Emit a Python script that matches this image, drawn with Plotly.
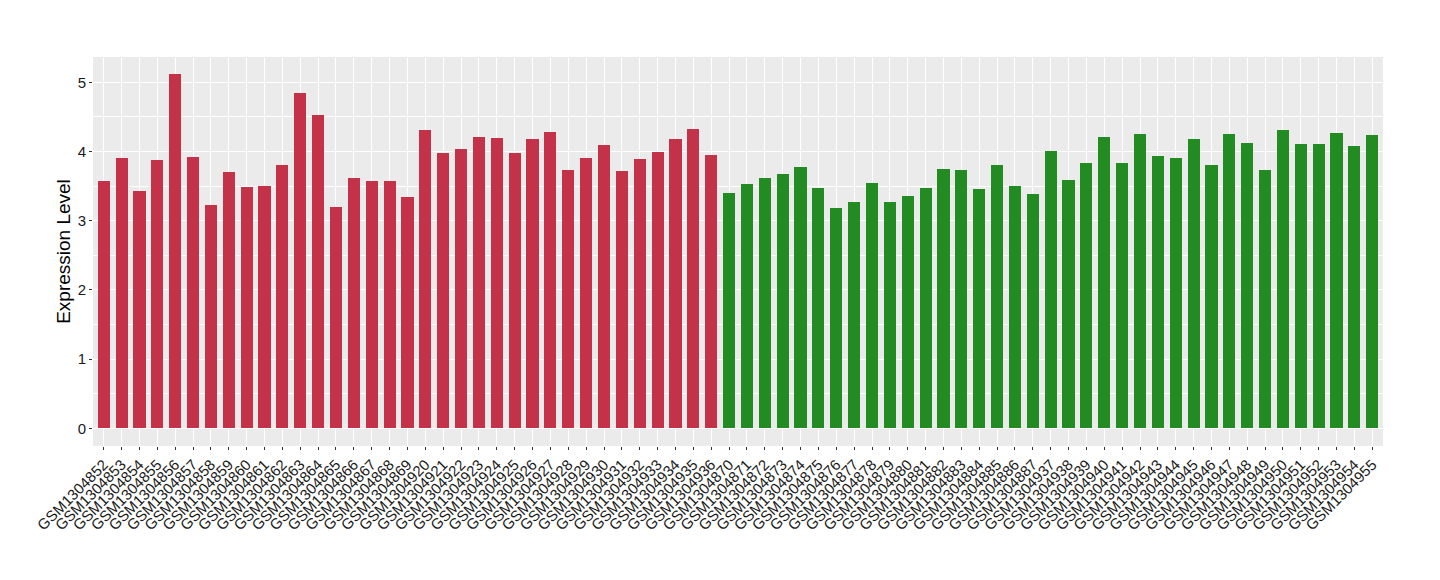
import plotly.graph_objects as go

# Sample groups
red_samples = [f"GSM{n}" for n in list(range(1304852, 1304870)) + list(range(1304920, 1304937))]
red_values = [3.57, 3.91, 3.43, 3.88, 5.12, 3.92, 3.22, 3.70, 3.49, 3.50, 3.80, 4.85, 4.53, 3.20,
              3.62, 3.57, 3.57, 3.34,
              4.31, 3.98, 4.04, 4.21, 4.20, 3.98, 4.18, 4.28, 3.73, 3.91, 4.09, 3.72, 3.89, 3.99,
              4.18, 4.33, 3.95]

green_samples = [f"GSM{n}" for n in list(range(1304870, 1304888)) + list(range(1304937, 1304956))]
green_values = [3.40, 3.53, 3.62, 3.68, 3.78, 3.47, 3.18, 3.27, 3.55, 3.27, 3.36, 3.47, 3.75, 3.73,
                3.46, 3.80, 3.50, 3.38,
                4.01, 3.59, 3.83, 4.21, 3.83, 4.25, 3.94, 3.91, 4.18, 3.80, 4.25, 4.12, 3.73, 4.31,
                4.11, 4.11, 4.27, 4.08, 4.24]

RED = "#C33249"
GREEN = "#228B22"

samples = red_samples + green_samples
values = red_values + green_values
colors = [RED] * len(red_samples) + [GREEN] * len(green_samples)

fig = go.Figure()
fig.add_trace(
    go.Bar(
        x=samples,
        y=values,
        marker=dict(color=colors, line=dict(width=0)),
        width=0.68,
        showlegend=False,
    )
)

# page body adds an 8px offset, margins compensate for it
fig.update_layout(
    width=1440,
    height=580,
    paper_bgcolor="white",
    plot_bgcolor="#EBEBEB",
    margin=dict(l=85, r=65, t=49, b=142),
    font=dict(family="Liberation Sans, Arial, sans-serif", color="#1A1A1A"),
    bargap=0,
)

fig.update_xaxes(
    type="category",
    categoryorder="array",
    categoryarray=samples,
    range=[-0.6, len(samples) - 0.4],
    tickmode="array",
    tickvals=samples,
    ticktext=samples,
    tickangle=-45,
    tickfont=dict(size=15, color="#1A1A1A"),
    showgrid=True,
    gridcolor="white",
    gridwidth=1.1,
    ticks="outside",
    ticklen=3,
    tickcolor="#333333",
    showline=False,
    zeroline=False,
    automargin=False,
)

fig.update_yaxes(
    range=[-0.256, 5.366],
    tickvals=[0, 1, 2, 3, 4, 5],
    tickfont=dict(size=15, color="#1A1A1A"),
    title=dict(text="Expression Level", font=dict(size=19, color="#000000"), standoff=2),
    showgrid=True,
    gridcolor="white",
    gridwidth=1.4,
    minor=dict(dtick=0.5, tick0=0, showgrid=True, gridcolor="white", gridwidth=0.6),
    ticks="outside",
    ticklen=3,
    tickcolor="#333333",
    zeroline=False,
    showline=False,
    automargin=False,
)

fig.write_html("out.html")
